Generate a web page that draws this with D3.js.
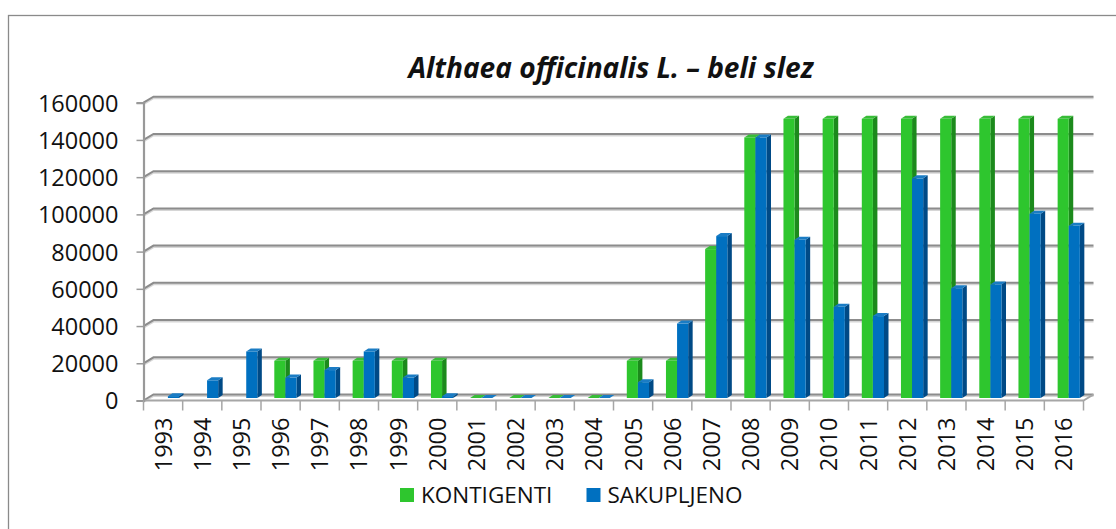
<!DOCTYPE html>
<html>
<head>
<meta charset="utf-8">
<script src="https://cdn.jsdelivr.net/npm/d3@7"></script>
<style>
  html, body { margin: 0; padding: 0; background: #fff; }
  svg { display: block; }
  text { font-family: "Open Sans", sans-serif; fill: #111; }
</style>
</head>
<body>
<svg></svg>
<script>
const width = 1116;
const height = 529;

// data
const years = ['1993','1994','1995','1996','1997','1998','1999','2000','2001','2002','2003','2004',
               '2005','2006','2007','2008','2009','2010','2011','2012','2013','2014','2015','2016'];
const kontigenti = [null, null, null, 20000, 20000, 20000, 20000, 20000, 0, 0, 0, 0,
                    20000, 20000, 80000, 140000, 150000, 150000, 150000, 150000, 150000, 150000, 150000, 150000];
const sakupljeno = [1000, 9500, 25000, 11000, 15000, 25000, 11000, 1000, 0, 0, 0, 0,
                    8500, 40000, 87000, 140000, 85000, 49000, 44000, 118000, 59000, 61000, 99000, 92500];
const seriesNames = ['KONTIGENTI', 'SAKUPLJENO'];
const yTicks = [0, 20000, 40000, 60000, 80000, 100000, 120000, 140000, 160000];
const title = 'Althaea officinalis L. \u2013 beli slez';

const colors = {
  KONTIGENTI: { front: '#2ec62e', side: '#1c8a1c', top: '#38bd38' },
  SAKUPLJENO: { front: '#0070c0', side: '#004a86', top: '#1a7cc4' }
};

// 3d floor depth and bar depth
const depth = { dx: 10, dy: -6 };
const barDepth = { dx: 4.5, dy: -3 };
const barShift = { dx: 2.5, dy: -2.5 };

const svg = d3.select('svg').attr('width', width).attr('height', height);

svg.append('rect')
    .attr('x', 8.5).attr('y', 15.5)
    .attr('width', 1200).attr('height', 600)
    .attr('fill', '#fff')
    .attr('stroke', '#8a8a8a').attr('stroke-width', 1.3);

const x = d3.scaleBand().domain(years).range([143.5, 1083.5]);
const y = d3.scaleLinear().domain([0, 160000]).range([400.5, 102.7]);
const xs = d3.scaleBand().domain(seriesNames).range([10.8, 33]);

// gridlines with the slanted left wall edge
const grid = svg.append('g');
yTicks.forEach(t => {
  const yy = y(t);
  const d = `M143.5,${yy}L${143.5 + depth.dx},${yy + depth.dy}L${1083.5 + depth.dx},${yy + depth.dy}`;
  grid.append('path').attr('d', d).attr('fill', 'none')
      .attr('stroke', '#d6d6d6').attr('stroke-width', 2).attr('transform', 'translate(0,1.5)');
  grid.append('path').attr('d', d).attr('fill', 'none')
      .attr('stroke', '#8c8c8c').attr('stroke-width', 2);
});

// floor front edge
svg.append('path')
    .attr('d', `M143.5,${y(0)}L1083.5,${y(0)}L${1083.5 + depth.dx},${y(0) + depth.dy}`)
    .attr('fill', 'none').attr('stroke', '#a6a6a6').attr('stroke-width', 2);

// y axis
const yAxis = svg.append('g')
    .attr('transform', 'translate(143.5,0)')
    .call(d3.axisLeft(y).tickValues(yTicks).tickFormat(d3.format('d')).tickSize(7).tickPadding(18));
yAxis.select('.domain').attr('stroke', '#999').attr('stroke-width', 2.2);
yAxis.selectAll('.tick line').attr('stroke', '#999').attr('stroke-width', 1.5);
yAxis.selectAll('.tick text')
    .style('font-family', '"Open Sans", sans-serif')
    .style('font-size', '23.5px')
    .attr('fill', '#111')
    .attr('dy', '0.36em');

// x axis: labels at band centres, tick marks on band edges
const xAxis = svg.append('g')
    .attr('transform', `translate(0,${y(0)})`)
    .call(d3.axisBottom(x).tickSize(0).tickPadding(0));
xAxis.select('.domain').remove();
xAxis.selectAll('.tick text')
    .style('font-family', '"Open Sans", sans-serif')
    .style('font-size', '23.5px')
    .attr('fill', '#111')
    .attr('text-anchor', 'end')
    .attr('transform', 'translate(0,17) rotate(-90)')
    .attr('x', 0).attr('y', 0).attr('dy', '0.36em');

const edges = years.map(d => x(d)).concat([x.range()[1]]);
svg.append('g').selectAll('line')
    .data(edges)
    .join('line')
    .attr('x1', d => d).attr('x2', d => d)
    .attr('y1', y(0)).attr('y2', y(0) + 10)
    .attr('stroke', '#a6a6a6').attr('stroke-width', 1.5);

// bars
const bars = svg.append('g');
years.forEach((yr, i) => {
  seriesNames.forEach(name => {
    const v = name === 'KONTIGENTI' ? kontigenti[i] : sakupljeno[i];
    if (v === null) return;
    const c = colors[name];
    const x0 = x(yr) + xs(name) + barShift.dx;
    const w = xs.bandwidth();
    const yb = y(0) + barShift.dy;
    const yt = y(v) + barShift.dy;
    const g = bars.append('g');
    // side
    g.append('path')
        .attr('d', `M${x0 + w},${yt}L${x0 + w + barDepth.dx},${yt + barDepth.dy}L${x0 + w + barDepth.dx},${yb + barDepth.dy}L${x0 + w},${yb}Z`)
        .attr('fill', c.side);
    // front
    g.append('rect')
        .attr('x', x0).attr('y', yt)
        .attr('width', w).attr('height', Math.max(0, yb - yt))
        .attr('fill', c.front);
    // top
    g.append('path')
        .attr('d', `M${x0},${yt}L${x0 + barDepth.dx},${yt + barDepth.dy}L${x0 + w + barDepth.dx},${yt + barDepth.dy}L${x0 + w},${yt}Z`)
        .attr('fill', c.top);
  });
});

// title, fitted to the width it has in the picture
const titleText = svg.append('text')
    .attr('x', 611).attr('y', 78)
    .attr('text-anchor', 'middle')
    .style('font-family', '"Open Sans", sans-serif')
    .style('font-weight', 'bold')
    .style('font-style', 'italic')
    .style('font-size', '100px')
    .text(title);
const tw = titleText.node().getComputedTextLength();
titleText.style('font-size', (100 * 405 / tw).toFixed(2) + 'px');

// legend
const legend = svg.append('g').attr('transform', 'translate(400,488)');
const legendX = [0, 186.5];
seriesNames.forEach((name, i) => {
  const g = legend.append('g').attr('transform', `translate(${legendX[i]},0)`);
  g.append('rect').attr('width', 14).attr('height', 14).attr('fill', colors[name].front);
  g.append('text')
      .attr('x', 21).attr('y', 7).attr('dy', '0.36em')
      .style('font-size', '22.5px')
      .text(name);
});
</script>
</body>
</html>
